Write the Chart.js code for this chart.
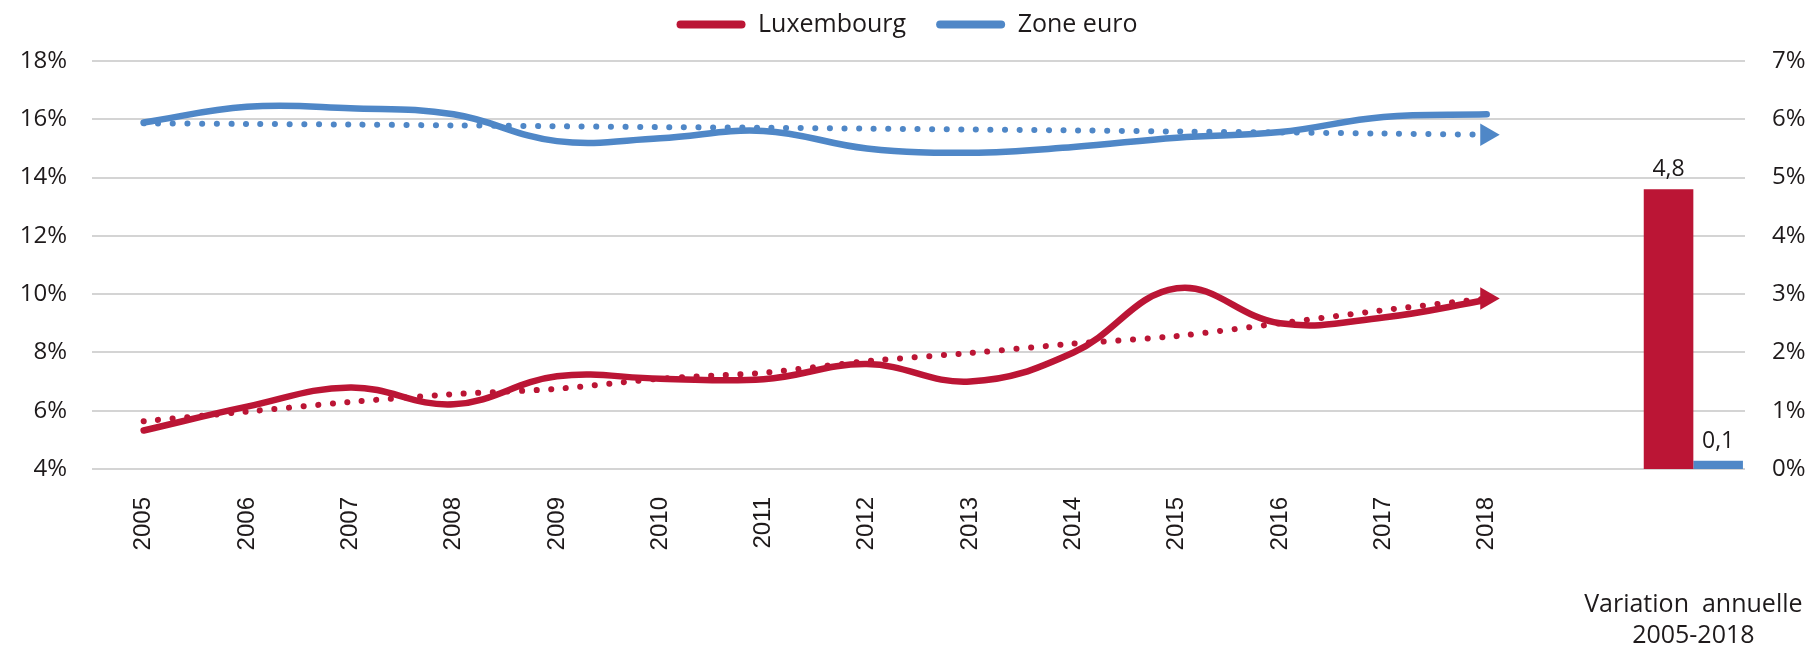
<!DOCTYPE html>
<html>
<head>
<meta charset="utf-8">
<script src="https://cdn.jsdelivr.net/npm/chart.js@4"></script>
<style>
  html, body { margin: 0; padding: 0; background: #fff; }
  #wrap { width: 1814px; height: 645px; }
</style>
</head>
<body>
<div id="wrap"><canvas id="chart"></canvas></div>
<script>
// data
const years = ['2005', '2006', '2007', '2008', '2009', '2010', '2011', '2012', '2013', '2014', '2015', '2016', '2017', '2018'];
const luxembourg = [5.32, 6.14, 6.8, 6.22, 7.18, 7.1, 7.08, 7.6, 7.0, 8.0, 10.2, 9.0, 9.2, 9.8];
const zoneEuro = [15.89, 16.43, 16.38, 16.17, 15.25, 15.35, 15.6, 15.0, 14.85, 15.05, 15.37, 15.56, 16.08, 16.17];
const luxembourgTrend = [5.64, 5.97, 6.3, 6.57, 6.75, 7.1, 7.3, 7.7, 7.98, 8.3, 8.56, 9.0, 9.45, 9.85];
const zoneEuroTrend = [15.86, 15.84, 15.82, 15.79, 15.76, 15.73, 15.71, 15.68, 15.65, 15.62, 15.58, 15.55, 15.51, 15.47];
const variationLux = 4.8;
const variationEuro = 0.14;
const variationTitle = ['Variation  annuelle', '2005-2018'];

const labels = years.concat(['', '']);
const barIndex = labels.length - 1;

const red = '#bb1535';
const blue = '#4f87c7';
const textColor = '#1e1a1b';

Chart.defaults.font.family = '"Open Sans", sans-serif';
Chart.defaults.font.size = 24;
Chart.defaults.color = textColor;

function barData(v) {
	return labels.map((l, i) => i === barIndex ? v : null);
}

function lastPoint(arr, size) {
	return ctx => ctx.dataIndex === arr.length - 1 ? size : 0;
}

// value labels above the two bars
const barLabels = {
	id: 'barLabels',
	afterDatasetsDraw(chart) {
		const ctx = chart.ctx;
		ctx.save();
		ctx.font = '23px "Open Sans"';
		ctx.fillStyle = textColor;
		ctx.textAlign = 'center';
		ctx.textBaseline = 'alphabetic';
		chart.data.datasets.forEach((ds, i) => {
			if (ds.type !== 'bar') return;
			const meta = chart.getDatasetMeta(i);
			meta.data.forEach((bar, j) => {
				const v = ds.data[j];
				if (v == null) return;
				ctx.fillText(v.toFixed(1).replace('.', ','), bar.x, bar.y - 13);
			});
		});
		ctx.restore();
	}
};

// caption under the bar group
const variationText = {
	id: 'variationText',
	afterDraw(chart) {
		const ctx = chart.ctx;
		const x = chart.scales.x.getPixelForValue(barIndex);
		ctx.save();
		ctx.font = '25px "Open Sans"';
		ctx.fillStyle = textColor;
		ctx.textAlign = 'center';
		ctx.textBaseline = 'alphabetic';
		ctx.fillText(variationTitle[0], x, chart.height - 33);
		ctx.fillText(variationTitle[1], x, chart.height - 2);
		ctx.restore();
	}
};

// legend sits higher than chart.js puts it
const legendShift = {
	id: 'legendShift',
	afterLayout(chart) {
		chart.legend.top -= 14;
		chart.legend.bottom -= 14;
	}
};

const ctx = document.getElementById('chart').getContext('2d');
const myChart = new Chart(ctx, {
	type: 'bar',
	data: {
		labels: labels,
		datasets: [
			{
				type: 'line',
				label: 'Luxembourg',
				data: luxembourg,
				borderColor: red,
				backgroundColor: red,
				borderWidth: 6.5,
				borderCapStyle: 'round',
				tension: 0.4,
				pointRadius: 0,
				yAxisID: 'y'
			},
			{
				type: 'line',
				label: 'Zone euro',
				data: zoneEuro,
				borderColor: blue,
				backgroundColor: blue,
				borderWidth: 6.5,
				borderCapStyle: 'round',
				tension: 0.4,
				pointRadius: 0,
				yAxisID: 'y'
			},
			{
				type: 'line',
				label: 'Tendance Luxembourg',
				data: luxembourgTrend,
				borderColor: red,
				backgroundColor: red,
				borderWidth: 6,
				borderCapStyle: 'round',
				borderDash: [0.1, 14.5],
				tension: 0.2,
				pointStyle: 'triangle',
				pointRotation: 90,
				pointRadius: lastPoint(luxembourgTrend, 13),
				pointBorderWidth: 0,
				yAxisID: 'y'
			},
			{
				type: 'line',
				label: 'Tendance zone euro',
				data: zoneEuroTrend,
				borderColor: blue,
				backgroundColor: blue,
				borderWidth: 6,
				borderCapStyle: 'round',
				borderDash: [0.1, 14.5],
				tension: 0.2,
				pointStyle: 'triangle',
				pointRotation: 90,
				pointRadius: lastPoint(zoneEuroTrend, 13),
				pointBorderWidth: 0,
				yAxisID: 'y'
			},
			{
				type: 'bar',
				label: 'Variation Luxembourg',
				data: barData(variationLux),
				backgroundColor: red,
				yAxisID: 'y2',
				barPercentage: 1,
				categoryPercentage: 0.96
			},
			{
				type: 'bar',
				label: 'Variation zone euro',
				data: barData(variationEuro),
				backgroundColor: blue,
				yAxisID: 'y2',
				barPercentage: 1,
				categoryPercentage: 0.96
			}
		]
	},
	options: {
		responsive: true,
		maintainAspectRatio: false,
		animation: false,
		events: [],
		layout: { padding: { top: -4 } },
		plugins: {
			tooltip: { enabled: false },
			legend: {
				position: 'top',
				labels: {
					font: { size: 25 },
					boxWidth: 69,
					boxHeight: 8,
					useBorderRadius: true,
					borderRadius: 4,
					padding: 30,
					filter: item => item.datasetIndex < 2,
					generateLabels: chart => Chart.defaults.plugins.legend.labels.generateLabels(chart).map(item => {
						item.fillStyle = item.strokeStyle;
						item.lineWidth = 0;
						return item;
					})
				}
			}
		},
		scales: {
			x: {
				offset: true,
				grid: { display: false, drawTicks: false },
				border: { display: false },
				ticks: {
					autoSkip: false,
					minRotation: 90,
					maxRotation: 90,
					padding: 28,
					font: { family: '"Liberation Sans", Arial, sans-serif', size: 24 }
				},
				afterFit: s => { s.height = 176; }
			},
			y: {
				position: 'left',
				min: 4,
				max: 18,
				ticks: {
					stepSize: 2,
					padding: 25,
					callback: v => v + '%'
				},
				grid: { color: '#d4d4d4', lineWidth: 2, drawTicks: false },
				border: { display: false },
				afterFit: s => { s.width = 92; }
			},
			y2: {
				position: 'right',
				min: 0,
				max: 7,
				ticks: {
					stepSize: 1,
					padding: 27,
					callback: v => v + '%'
				},
				grid: { display: false, drawTicks: false },
				border: { display: false },
				afterFit: s => { s.width = 69; }
			}
		}
	},
	plugins: [barLabels, variationText, legendShift]
});
</script>
</body>
</html>
